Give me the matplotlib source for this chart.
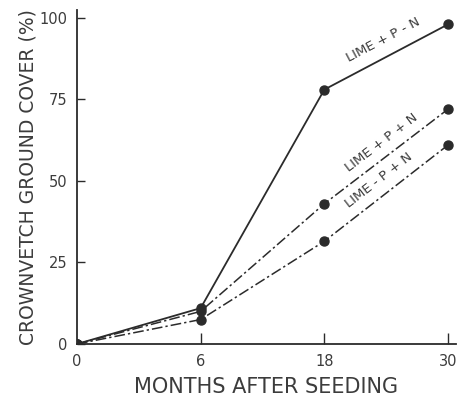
import numpy as np
import matplotlib
matplotlib.use('Agg')
from matplotlib import pyplot as plt

months = ['0', '6', '18', '30']
lime_p_no_n = [0, 11, 78, 98]
lime_p_n = [0, 10, 43, 72]
lime_no_p_n = [0, 7.5, 31.5, 61]
series_labels = ['LIME + P - N', 'LIME + P + N', 'LIME - P + N']

ink = '#2b2b2b'
txt_ink = '#3c3c3c'
plt.rcParams['font.family'] = ['DejaVu Sans']
plt.rcParams['text.color'] = txt_ink


def main():
    fig = plt.figure(figsize=(4.68, 3.98), dpi=100)
    ax = fig.add_axes([0.1645, 0.1357, 0.81, 0.84])
    x = np.arange(len(months))

    ax.plot(x, lime_p_no_n, color=ink, lw=1.3, marker='o', ms=6.5,
            solid_capstyle='round')
    ax.plot(x, lime_p_n, color=ink, lw=1.1, dashes=(7, 2, 1.5, 2),
            marker='o', ms=6.5)
    ax.plot(x, lime_no_p_n, color=ink, lw=1.1, dashes=(7, 2, 1.5, 2),
            marker='o', ms=6.5)

    ax.set_xlim(0, 3.065)
    ax.set_ylim(0, 102.5)
    ax.set_xticks(x)
    ax.set_xticklabels(months)
    ax.set_yticks([0, 25, 50, 75, 100])
    ax.set_yticklabels(['0', '25', '50', '75', '100'])
    ax.tick_params(direction='in', length=8, width=1, color=ink,
                   labelcolor=txt_ink, labelsize=10.5, pad=7)
    ax.tick_params(axis='y', length=6, pad=7)
    # no tick mark at month 0, only the label
    ax.xaxis.get_major_ticks()[0].tick1line.set_visible(False)

    for side in ['top', 'right']:
        ax.spines[side].set_visible(False)
    for side in ['left', 'bottom']:
        ax.spines[side].set_linewidth(1.3)
        ax.spines[side].set_color(ink)

    ax.set_xlabel('MONTHS AFTER SEEDING', fontsize=15, labelpad=6,
                  color=txt_ink)
    ax.set_ylabel('CROWNVETCH GROUND COVER (%)', fontsize=13.5,
                  color=txt_ink)
    ax.yaxis.set_label_coords(-0.105, 0.5)

    # labels sit on the last segment of each line, starting near x = 2.2
    start = 2.2
    for vals, txt, off in zip([lime_p_no_n, lime_p_n, lime_no_p_n],
                              series_labels, [10.5, 9.5, 10]):
        p0 = ax.transData.transform((2, vals[2]))
        p1 = ax.transData.transform((3, vals[3]))
        ang = np.degrees(np.arctan2(p1[1] - p0[1], p1[0] - p0[0]))
        y0 = vals[2] + (start - 2) * (vals[3] - vals[2])
        ax.annotate(txt, xy=(start, y0), xytext=(0, off),
                    textcoords='offset points', ha='left', va='baseline',
                    rotation=ang, rotation_mode='anchor', fontsize=9.5,
                    color=txt_ink)

    fig.savefig('out.png', dpi=100)


if __name__ == '__main__':
    main()
